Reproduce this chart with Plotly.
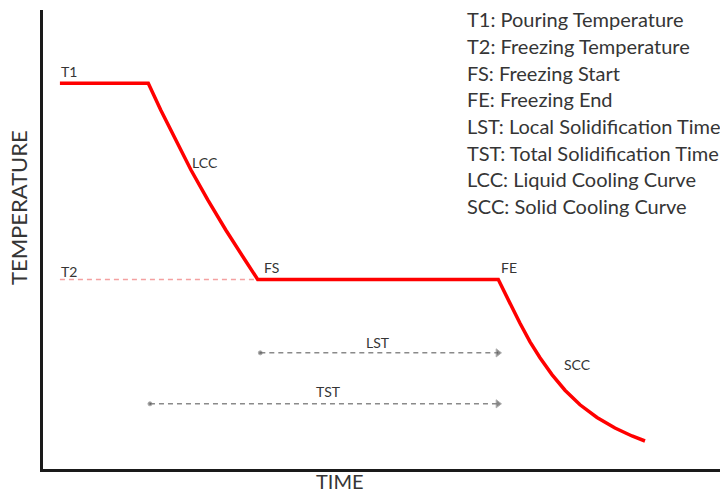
import plotly.graph_objects as go

# Cooling curve (time, temperature) in arbitrary units
curve_time = [2.5, 15.55, 17.39, 19.56, 21.86, 24.34, 27.00, 29.84, 31.71,
              67.25, 68.24, 69.28, 70.46, 71.94, 73.41, 75.18, 77.10, 79.32,
              81.83, 84.49, 87.00, 88.92]
curve_temp = [84.03, 84.03, 78.21, 71.68, 65.14, 58.61, 52.07, 45.53, 41.3,
              41.3, 38.19, 35.23, 31.74, 27.71, 24.23, 20.57, 17.17, 13.99,
              11.22, 8.93, 7.19, 6.10]

# Freezing temperature reference line
t2_time = [2.5, 31.6]
t2_temp = [41.3, 41.3]

# Time spans (start, end, level)
lst_time = [32.1, 67.2]
lst_level = 25.3
tst_time = [15.8, 67.2]
tst_level = 14.2

# Point labels: text, x, y
label_text = ["T1", "LCC", "T2", "FS", "FE", "LST", "TST", "SCC"]
label_x = [2.3, 21.7, 2.3, 32.4, 67.3, 47.4, 40.0, 76.7]
label_y = [86.6, 66.7, 43.0, 44.0, 44.0, 27.6, 16.8, 22.7]

# Legend lines
legend_lines = [
    "T1: Pouring Temperature",
    "T2: Freezing Temperature",
    "FS: Freezing Start",
    "FE: Freezing End",
    "LST: Local Solidification Time",
    "TST: Total Solidification Time",
    "LCC: Liquid Cooling Curve",
    "SCC: Solid Cooling Curve",
]
legend_x = 62.4
legend_top = 98.0
legend_step = 5.81

FONT = "Lato"
TXT = "#353535"

fig = go.Figure()

fig.add_trace(go.Scatter(x=t2_time, y=t2_temp, mode="lines",
                         line=dict(color="#f4a0a0", width=1.5, dash="5px,4px"),
                         hoverinfo="skip"))
fig.add_trace(go.Scatter(x=curve_time, y=curve_temp, mode="lines",
                         line=dict(color="#ff0000", width=3.5),
                         hoverinfo="skip"))

for span, level in [(lst_time, lst_level), (tst_time, tst_level)]:
    fig.add_trace(go.Scatter(x=span, y=[level, level], mode="lines+markers",
                             line=dict(color="#8a8a8a", width=1.5, dash="5px,4px"),
                             marker=dict(symbol=["circle", "triangle-right"], size=[4, 7],
                                         color="#555555"),
                             hoverinfo="skip"))

for t, x, y in zip(label_text, label_x, label_y):
    fig.add_annotation(x=x, y=y, text=t, showarrow=False, xanchor="left", yanchor="middle",
                       font=dict(family=FONT, size=14, color=TXT))

for i, line in enumerate(legend_lines):
    fig.add_annotation(x=legend_x, y=legend_top - i * legend_step, text=line, showarrow=False,
                       xanchor="left", yanchor="middle",
                       font=dict(family=FONT, size=20, color=TXT))

fig.add_annotation(xref="paper", yref="paper", x=-0.0369, y=0.5686, text="TEMPERATURE",
                   textangle=-90, showarrow=False, xanchor="center", yanchor="middle",
                   font=dict(family=FONT, size=22, color=TXT))
fig.add_annotation(xref="paper", yref="paper", x=0.4387, y=-0.026, text="TIME",
                   showarrow=False, xanchor="center", yanchor="middle",
                   font=dict(family=FONT, size=20, color=TXT))

fig.update_layout(
    width=720, height=493,
    margin=dict(l=43, r=0, t=10, b=24),
    paper_bgcolor="white", plot_bgcolor="white",
    showlegend=False,
    xaxis=dict(range=[0, 100], showgrid=False, zeroline=False, showticklabels=False,
               ticks="", showline=True, linecolor="#1a1a1a", linewidth=2.5),
    yaxis=dict(range=[0, 100], showgrid=False, zeroline=False, showticklabels=False,
               ticks="", showline=True, linecolor="#1a1a1a", linewidth=2.5),
)

fig.write_html("out.html", config={"displayModeBar": False},
               post_script="document.body.style.margin='0';document.body.style.overflow='hidden';")
